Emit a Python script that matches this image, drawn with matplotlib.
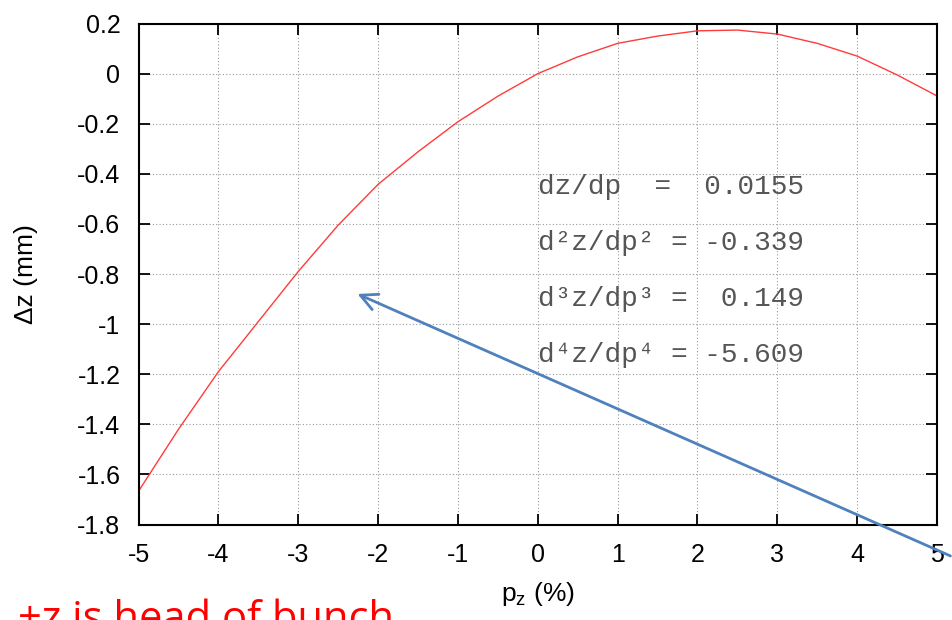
import numpy as np
import matplotlib.pyplot as plt

# momentum offset p_z (%) and longitudinal shift dz (mm)
pz = [-5.0, -4.5, -4.0, -3.5, -3.0, -2.5, -2.0, -1.5, -1.0, -0.5, 0.0,
      0.5, 1.0, 1.5, 2.0, 2.5, 3.0, 3.5, 4.0, 4.5, 5.0]
dz = [-1.667, -1.420, -1.190, -0.990, -0.790, -0.605, -0.442, -0.312, -0.192, -0.090, 0.000,
      0.067, 0.121, 0.150, 0.171, 0.174, 0.158, 0.121, 0.070, -0.005, -0.089]

coef_lines = [
    "dz/dp  =  0.0155",
    "d²z/dp² = -0.339",
    "d³z/dp³ =  0.149",
    "d⁴z/dp⁴ = -5.609",
]
coef_y = [-0.453, -0.677, -0.901, -1.124]

xticks = list(range(-5, 6))
yticks = [-1.8, -1.6, -1.4, -1.2, -1.0, -0.8, -0.6, -0.4, -0.2, 0.0, 0.2]

fig = plt.figure(figsize=(9.52, 6.2), dpi=100)
ax = fig.add_axes([0.1455, 0.154, 0.8388, 0.808])

ax.plot(pz, dz, color="#ff3b3b", lw=1.0)

ax.set_xlim(-5, 5)
ax.set_ylim(-1.8, 0.2)
ax.set_xticks(xticks)
ax.set_yticks(yticks)
ax.set_xticklabels([f"{v:g}" for v in xticks])
ax.set_yticklabels([f"{v:g}" if v != 0 else "0" for v in yticks])

ax.grid(True, ls=(0, (1, 2)), color="#999999", lw=0.8)
ax.tick_params(direction="in", length=8, width=1.3, top=True, right=True,
               labelsize=18)
ax.tick_params(axis="y", pad=13)
ax.tick_params(axis="x", pad=13)
for lbl in ax.get_xticklabels() + ax.get_yticklabels():
    lbl.set_family("Liberation Sans")
for s in ax.spines.values():
    s.set_linewidth(1.5)

ax.set_xlabel(r"p$_\mathregular{z}$ (%)", family="Liberation Sans", fontsize=19, labelpad=10)
ax.set_ylabel("Δz (mm)", family="Liberation Sans", fontsize=19, labelpad=28)

for txt, yv in zip(coef_lines, coef_y):
    ax.text(0.0, yv, txt, family=["Liberation Mono", "DejaVu Sans Mono"],
            fontsize=20, color="#555555", va="center", ha="left")

# arrow pointing back at the curve
ax.annotate("", xy=(-2.29, -0.875), xytext=(5.2, -1.93),
            arrowprops=dict(arrowstyle="->", color="#4f81bd", lw=2.0,
                            mutation_scale=30),
            annotation_clip=False)

fig.text(0.019, -0.017, "+z is head of bunch", color="red",
         family="Open Sans", fontsize=30, va="baseline", ha="left")

fig.savefig("out.png", dpi=100)
